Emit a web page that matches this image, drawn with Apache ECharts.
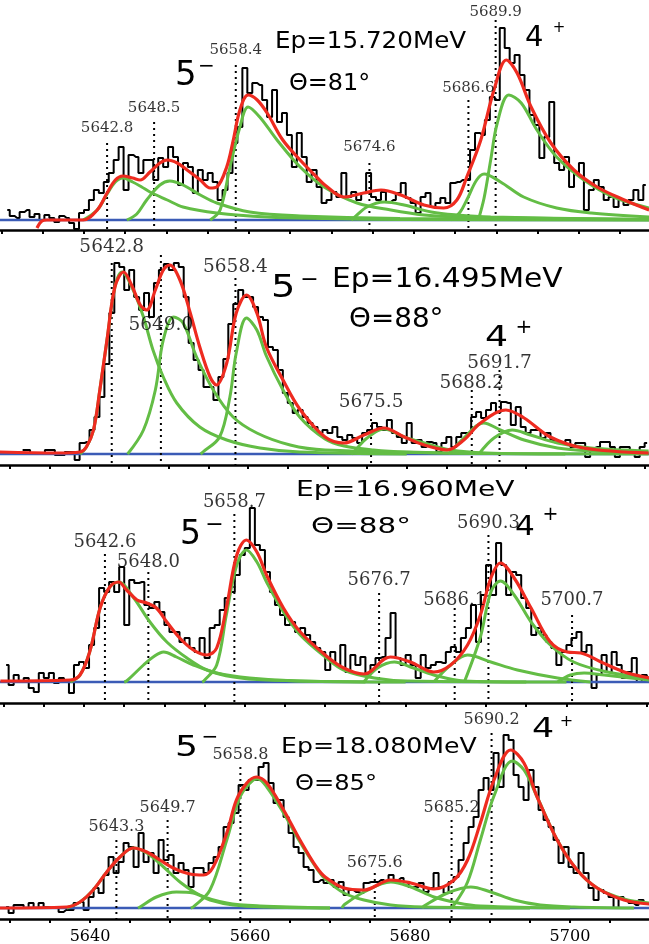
<!DOCTYPE html>
<html><head><meta charset="utf-8">
<script src="https://cdn.jsdelivr.net/npm/echarts@6/dist/echarts.min.js"></script>
<style>html,body{margin:0;padding:0;background:#fff}#c{width:649px;height:944px}</style>
</head><body><div id="c"></div>
<script>
// ---------------- DATA ----------------
// x-axis ticks
const tickValues = [5630,5635,5640,5645,5650,5655,5660,5665,5670,5675,5680,5685,5690,5695,5700,5705,5710];
const labelValues = [5640,5660,5680,5700];

// histograms: counts per bin (bin start, bin width, values)
const hist1Start = 5630.4, hist1Width = 0.6;
const hist1 = [10,4,2,8,10,3,6,0,5,2,-2,4,2,-3,-9,
 7,10,20,30,27,38,47,60,73,30,65,63,47,60,60,40,62,53,73,63,35,57,53,27,50,40,47,38,20,30,47,77,93,152,127,137,135,120,103,130,98,107,85,53,87,63,38,50,33,17,
 20,28,23,47,23,28,20,27,47,23,20,28,18,20,27,37,22,17,7,23,27,13,17,22,17,37,38,40,40,70,87,85,100,123,120,192,172,157,165,145,130,105,95,62,83,118,57,50,63,33,47,57,10,30,40,33,20,23,13,20,15,20,30,20,35];
const hist2Start = 5631.25, hist2Width = 0.625;
const hist2 = [4,4,1,1,1,4,4,-1,-1,2,2,-6,11,12,24,37,57,90,141,191,187,164,184,157,144,161,137,171,184,190,184,191,187,157,111,94,84,67,67,54,77,95,130,150,164,157,157,147,137,134,107,104,84,61,51,41,44,37,31,27,21,24,
 21,27,17,14,19,16,11,21,24,31,27,24,34,21,17,11,31,11,14,7,12,11,2,11,17,7,17,21,21,37,42,36,44,51,42,52,51,29,47,27,21,24,24,16,21,14,11,11,14,7,11,11,-3,6,7,12,12,7,-3,7,7,4,-3,7,11];
const hist3Start = 5630.0, hist3Width = 0.625;
const hist3 = [17,-3,7,0,4,-6,-10,9,4,9,-1,4,0,-11,17,20,14,37,54,94,90,100,90,115,57,102,99,100,77,74,80,70,57,50,50,40,44,34,30,44,24,54,57,72,84,90,107,127,134,174,137,132,110,90,77,67,57,60,50,54,47,40,34,30,
 12,30,17,37,10,27,17,25,7,17,24,25,44,69,24,17,27,17,4,27,14,17,20,19,30,35,30,44,54,77,40,87,117,87,139,117,87,110,107,84,74,47,54,47,40,34,17,30,37,44,50,30,37,-6,7,27,10,30,17,4,10,24,0,7,4];
const hist4Start = 5629.2, hist4Width = 0.625;
const hist4 = [1,-5,3,3,0,5,0,5,1,0,0,-4,-2,-2,5,6,-2,11,20,15,33,51,35,46,65,61,41,75,46,55,35,68,48,53,35,45,38,21,40,40,35,45,51,61,81,85,95,123,118,128,128,141,145,125,105,108,91,75,61,55,41,38,26,28,
 25,28,21,26,13,18,16,15,25,26,26,28,26,33,28,30,26,21,21,25,16,20,35,21,15,26,31,48,65,81,91,118,130,118,155,121,173,168,133,121,108,138,121,98,88,81,68,45,61,41,35,55,35,20,8,18,15,11,0,11,8,5,3,8,5];

// background level (blue)
const baseLine = [[5625,0],[5715,0]];

// total fits (red), [energy, counts]
const fit1 = [[5634.3,-8],[5634.9,-1],[5635.5,0],[5639.9,0],[5641.6,10],[5642.8,27],[5643.8,40],[5644.7,44],[5645.9,42],[5646.8,40],[5648.0,48],[5649.2,57],[5650.1,60],[5651.3,57],[5652.5,50],[5654.1,40],[5655.3,32],[5656.1,33],[5657.3,53],[5658.1,80],[5658.9,110],[5659.9,125],[5661.0,120],[5662.2,107],[5664.1,80],[5666.2,60],[5668.2,43],[5669.2,35],[5671.5,23],[5673.9,27],[5676.0,30],[5678.4,25],[5681.2,15],[5683.6,12],[5685.2,20],[5686.4,43],[5688.1,80],[5689.7,130],[5691.2,160],[5692.5,147],[5694.2,113],[5696.6,77],[5699.4,50],[5702.2,33],[5705.5,20],[5708.5,10]];
const fit2 = [[5628.7,2],[5636.0,1],[5638.8,2],[5639.6,7],[5640.5,24],[5641.3,64],[5642.2,114],[5643.2,167],[5644.3,182],[5645.3,169],[5646.4,149],[5647.2,144],[5648.3,164],[5649.3,184],[5650.1,189],[5651.4,174],[5652.7,141],[5653.9,107],[5655.2,77],[5656.0,69],[5657.3,91],[5658.5,141],[5659.8,159],[5661.1,141],[5662.3,107],[5664.4,74],[5666.5,45],[5669.7,17],[5672.1,11],[5674.6,19],[5677.1,26],[5679.7,17],[5682.2,9],[5685.1,4],[5687.2,14],[5689.3,31],[5692.5,44],[5694.8,36],[5698.1,17],[5702.3,6],[5710.5,1]];
const fit3 = [[5629.6,1],[5638.3,2],[5639.5,7],[5640.7,30],[5642.0,74],[5643.2,95],[5644.3,100],[5645.3,92],[5646.6,82],[5647.8,79],[5649.0,74],[5650.3,60],[5651.9,44],[5653.6,32],[5655.3,27],[5656.5,34],[5657.7,74],[5659.0,127],[5660.2,142],[5661.5,130],[5662.7,107],[5664.8,74],[5666.9,50],[5670.0,27],[5672.3,14],[5674.8,8],[5678.1,25],[5680.6,20],[5683.5,10],[5685.6,17],[5687.7,37],[5689.3,67],[5690.6,104],[5691.8,119],[5693.5,104],[5695.6,74],[5698.0,40],[5700.1,30],[5701.8,29],[5704.3,20],[5707.2,10],[5710.3,4]];
const fit4 = [[5628.75,0],[5637.1,1],[5638.75,6],[5640.4,18],[5642.1,36],[5643.75,51],[5645.4,60],[5647.1,56],[5648.75,48],[5650.4,40],[5652.5,34],[5654.2,33],[5655.4,41],[5657.1,75],[5658.3,108],[5659.6,125],[5660.8,131],[5662.1,125],[5664.2,98],[5666.25,68],[5668.3,41],[5669.4,31],[5671.75,20],[5674.25,18],[5677.6,28],[5680.1,25],[5683.0,19],[5685.5,28],[5687.2,48],[5688.8,85],[5690.5,128],[5692.6,158],[5694.25,145],[5695.9,111],[5698.4,68],[5700.9,38],[5703.4,20],[5706.75,8],[5709.9,4]];

// fitted components (green), [energy, counts]
const comps1 = [
 [[5639.9,0],[5641.6,10],[5642.8,26],[5643.8,38],[5644.7,42],[5645.9,38],[5647.0,33],[5648.0,28],[5650.1,20],[5652.0,13],[5656.1,7],[5662.2,3],[5669.2,1.5],[5678.3,0.5],[5708.5,0]],
 [[5645.2,0],[5646.4,6],[5647.6,20],[5649.2,35],[5650.4,39],[5652.0,35],[5654.1,25],[5656.1,17],[5660.1,8],[5666.2,4],[5678.3,1.5],[5708.5,0.3]],
 [[5655.3,0],[5656.5,10],[5657.7,53],[5658.9,93],[5659.9,113],[5661.3,103],[5663.4,80],[5666.2,53],[5669.1,33],[5673.1,17],[5677.2,10],[5681.2,5],[5685.2,3],[5708.5,0.5]],
 [[5672.4,0],[5672.7,2],[5674.3,13],[5676.4,18],[5678.8,15],[5682.1,8],[5685.2,5],[5689.3,3],[5708.5,0.5]],
 [[5684.5,0],[5685.6,8],[5686.4,20],[5687.6,40],[5688.5,46],[5690.5,38],[5693.3,23],[5697.3,12],[5701.5,7],[5708.5,3]],
 [[5687.8,0],[5688.5,22],[5689.3,60],[5690.1,97],[5691.5,125],[5693.0,117],[5694.9,90],[5697.3,63],[5700.6,40],[5704.2,23],[5708.5,12]]
];
const comps2 = [
 [[5638.8,0],[5639.6,7],[5640.5,24],[5641.3,64],[5642.2,114],[5643.2,167],[5644.1,182],[5645.5,164],[5646.8,137],[5648.0,104],[5649.3,77],[5651.0,51],[5653.9,27],[5657.3,14],[5661.5,6],[5666.5,2],[5680,0]],
 [[5644.8,0],[5646.8,24],[5648.3,64],[5649.3,114],[5650.6,137],[5651.8,131],[5653.5,97],[5655.6,64],[5658.1,37],[5661.1,21],[5665.3,9],[5669.7,4],[5690,0.5]],
 [[5654.0,0],[5654.3,2],[5656.4,17],[5657.7,57],[5658.5,101],[5659.8,136],[5661.1,124],[5662.3,98],[5664.4,64],[5666.5,37],[5669.7,15],[5672.1,8],[5675.8,4],[5680,2],[5690,0.5],[5710.5,0]],
 [[5673.0,0],[5673.3,2],[5675.0,16],[5677.1,25],[5679.7,17],[5682.2,11],[5685.5,4],[5690,1],[5700,0]],
 [[5685.3,0],[5687.2,16],[5689.7,31],[5691.8,24],[5694.8,14],[5699.0,6],[5703.2,3],[5710.5,1]],
 [[5689.1,0],[5691.0,16],[5693.3,24],[5695.6,19],[5699.0,11],[5703.2,6],[5710.5,3]]
];
const comps3 = [
 [[5638.3,0],[5639.5,7],[5640.7,30],[5642.0,74],[5643.2,95],[5644.3,100],[5646.1,85],[5648.2,60],[5650.3,40],[5652.8,24],[5655.3,12],[5658.6,5],[5662.7,2],[5675,0]],
 [[5645.0,0],[5645.3,1],[5647.4,17],[5648.6,25],[5649.9,30],[5651.5,25],[5653.6,17],[5656.5,9],[5660.6,4],[5666.9,1],[5680,0]],
 [[5654.7,0],[5654.9,1],[5656.5,17],[5657.7,67],[5659.0,117],[5660.2,132],[5661.5,120],[5662.7,100],[5664.8,70],[5666.9,47],[5670.0,25],[5672.3,12],[5676.1,4],[5680.2,1],[5700,0]],
 [[5674.8,0],[5676.5,14],[5678.6,20],[5680.6,15],[5683.5,7],[5687.3,1],[5695,0]],
 [[5683.5,0],[5685.6,17],[5687.7,27],[5690.6,20],[5693.9,12],[5698.9,4],[5703,0]],
 [[5687.3,0],[5689.3,45],[5690.6,90],[5691.8,101],[5693.5,87],[5695.6,60],[5698.0,37],[5700.9,20],[5705.1,10],[5710.3,4]],
 [[5698.9,0],[5700.5,7],[5702.2,9],[5704.7,7],[5708.0,4],[5710.3,2]]
];
const comps4 = [
 [[5637.1,0],[5638.75,6],[5640.4,18],[5642.1,36],[5643.75,51],[5645.4,60],[5647.1,55],[5649.2,41],[5651.25,26],[5653.75,13],[5657.1,5],[5661.25,2],[5670,0]],
 [[5646.0,0],[5646.25,1],[5648.3,11],[5650.8,16],[5652.9,15],[5655.0,8],[5657.9,3],[5662.1,1],[5670,0]],
 [[5652.6,0],[5652.9,1],[5655.0,18],[5657.1,68],[5658.75,111],[5660.4,128],[5661.0,129],[5662.1,121],[5664.2,95],[5666.25,66],[5668.3,40],[5669.4,29],[5671.75,15],[5674.25,8],[5677.6,3],[5681.75,1],[5695,0]],
 [[5671.5,0],[5671.75,3],[5674.25,16],[5677.6,26],[5680.1,21],[5683.0,11],[5686.0,5],[5688.8,2],[5700,0]],
 [[5681.5,0],[5681.75,2],[5684.7,15],[5687.6,21],[5690.1,16],[5693.0,8],[5696.3,3],[5700.5,1],[5708,0]],
 [[5685.0,0],[5685.5,3],[5687.2,26],[5688.8,68],[5690.5,112],[5692.8,147],[5694.25,138],[5695.9,111],[5698.4,68],[5700.9,38],[5703.4,20],[5706.75,9],[5709.9,5]]
];

// peak energies (dotted markers + labels)
const peaks1 = [5642.8, 5648.5, 5658.4, 5674.6, 5686.6, 5689.9];
const peaks2 = [5642.8, 5649.0, 5658.4, 5675.5, 5688.2, 5691.7];
const peaks3 = [5642.6, 5648.0, 5658.7, 5676.7, 5686.1, 5690.3, 5700.7];
const peaks4 = [5643.3, 5649.7, 5658.8, 5675.6, 5685.2, 5690.2];

// panel texts
const beamTexts = ['Ep=15.720MeV','Ep=16.495MeV','Ep=16.960MeV','Ep=18.080MeV'];
const angleTexts = ['\u0398=81\u00b0','\u0398=88\u00b0','\u0398=88\u00b0','\u0398=85\u00b0'];

// ---------------- LAYOUT ----------------
const RED = '#ee2b20', GREEN = '#63bd45', BLUE = '#3b5bb6';
const layout = [
 {top:0,   height:230, yMin:-10, yMax:220, xMin:5629.82, xMax:5708.49, labSize:15,
  labY:[92,112,170,73,132,208], lineTop:[77,98,155,57,120,200]},
 {top:232, height:233, yMin:-11, yMax:222, xMin:5628.71, xMax:5710.55, labSize:18.5,
  labY:[207,129,187,52,71,91], lineTop:[191,199,176,41,64,84]},
 {top:467, height:236, yMin:-21, yMax:215, xMin:5629.55, xMax:5710.27, labSize:18,
  labY:[140,120,180,102,82,159,82], lineTop:[128,110,168,89,74,147,67]},
 {top:705, height:214, yMin:-11, yMax:203, xMin:5628.75, xMax:5709.88, labSize:16,
  labY:[81,100,153,45,100,188], lineTop:[68,88,141,35,88,175]}
];
const textLayout = [
 {ep:[275,42,23,1.07], th:[289,84,23,1.04], five:[175,76,34,1], minus:[206.5,67,20], four:[525,38,29,1], plus:[559,28,15]},
 {ep:[332,280,27,1.1], th:[349,320,27,1.03], five:[271,289,32,1.2], minus:[309.5,280,22], four:[485,338,29,1.25], plus:[524,328,20]},
 {ep:[296,491,21,1.34], th:[311,528,21,1.4], five:[180,535,33,1], minus:[214.5,525,22], four:[515,528,26,1.2], plus:[550.5,515,19]},
 {ep:[281,748,21,1.2], th:[295,785,21,1.15], five:[175,748,29,1.25], minus:[210,738,20], four:[532,730,27,1.29], plus:[566.5,722,16]}
];

const panels = [
 {hist:hist1, hs:hist1Start, hw:hist1Width, fit:fit1, comps:comps1, peaks:peaks1},
 {hist:hist2, hs:hist2Start, hw:hist2Width, fit:fit2, comps:comps2, peaks:peaks2},
 {hist:hist3, hs:hist3Start, hw:hist3Width, fit:fit3, comps:comps3, peaks:peaks3},
 {hist:hist4, hs:hist4Start, hw:hist4Width, fit:fit4, comps:comps4, peaks:peaks4}
];

const grids = [], xAxes = [], yAxes = [], series = [], graphics = [];
panels.forEach((P, i) => {
  const L = layout[i];
  grids.push({left:0, right:0, top:L.top, height:L.height, containLabel:false, outerBoundsMode:'none'});
  xAxes.push({
    type:'value', gridIndex:i, min:L.xMin, max:L.xMax,
    axisLine:{show:true, onZero:false, lineStyle:{color:'#000', width:2.5}},
    axisTick:{show:true, customValues:tickValues, length:4, inside:false, lineStyle:{color:'#000', width:2}},
    axisLabel:{show:i===3, customValues:labelValues, formatter:(v)=>String(Math.round(v)),
      fontFamily:'DejaVu Serif', fontSize:16, color:'#000', margin:10},
    splitLine:{show:false}
  });
  yAxes.push({type:'value', gridIndex:i, min:L.yMin, max:L.yMax, show:false, splitLine:{show:false}});

  // histogram
  series.push({type:'line', xAxisIndex:i, yAxisIndex:i, step:'middle', symbol:'none', silent:true, z:2,
    data:P.hist.map((v,k)=>[P.hs + P.hw*(k+0.5), v]),
    lineStyle:{color:'#000', width:2}});
  // background
  series.push({type:'line', xAxisIndex:i, yAxisIndex:i, symbol:'none', silent:true, z:3,
    data:baseLine, lineStyle:{color:BLUE, width:2.6}});
  // dotted markers
  P.peaks.forEach((e,j)=>{
    series.push({type:'line', xAxisIndex:i, yAxisIndex:i, symbol:'none', silent:true, z:4,
      data:[[e, L.lineTop[j]],[e, L.yMin]], lineStyle:{color:'#000', width:2, type:[2,4]}});
  });
  // components
  P.comps.forEach(c=>{
    series.push({type:'line', xAxisIndex:i, yAxisIndex:i, symbol:'none', silent:true, z:5, smooth:0.35,
      data:c, lineStyle:{color:GREEN, width:3}});
  });
  // total fit
  series.push({type:'line', xAxisIndex:i, yAxisIndex:i, symbol:'none', silent:true, z:6, smooth:0.35,
    data:P.fit, lineStyle:{color:RED, width:3.2}});
  // peak labels
  series.push({type:'scatter', xAxisIndex:i, yAxisIndex:i, symbolSize:1, silent:true, z:8,
    itemStyle:{color:'rgba(0,0,0,0)'},
    data:P.peaks.map((e,j)=>[e, L.labY[j]]),
    label:{show:true, position:'inside', formatter:(p)=>P.peaks[p.dataIndex].toFixed(1),
      fontFamily:'DejaVu Serif', fontSize:L.labSize, color:'#000'}});

  const T = textLayout[i];
  const txt = (s, x, y, size, sx, align) => ({type:'text', x:x, y:y, scaleX:sx, z:100, silent:true,
    style:{text:s, fontSize:size, fontFamily:'DejaVu Sans', fill:'#000',
      align:align, verticalAlign:'middle', textAlign:align, textVerticalAlign:'middle'}});
  graphics.push(txt(beamTexts[i], T.ep[0], T.ep[1], T.ep[2], T.ep[3], 'left'));
  graphics.push(txt(angleTexts[i], T.th[0], T.th[1], T.th[2], T.th[3], 'left'));
  graphics.push(txt('5', T.five[0], T.five[1], T.five[2], T.five[3], 'left'));
  graphics.push(txt('\u2212', T.minus[0], T.minus[1], T.minus[2], 1, 'center'));
  graphics.push(txt('4', T.four[0], T.four[1], T.four[2], T.four[3], 'left'));
  graphics.push(txt('+', T.plus[0], T.plus[1], T.plus[2], 1, 'center'));
});

const chart = echarts.init(document.getElementById('c'), null, {renderer:'canvas'});
chart.setOption({
  animation:false,
  backgroundColor:'#fff',
  grid:grids, xAxis:xAxes, yAxis:yAxes, series:series, graphic:graphics
});
</script></body></html>
